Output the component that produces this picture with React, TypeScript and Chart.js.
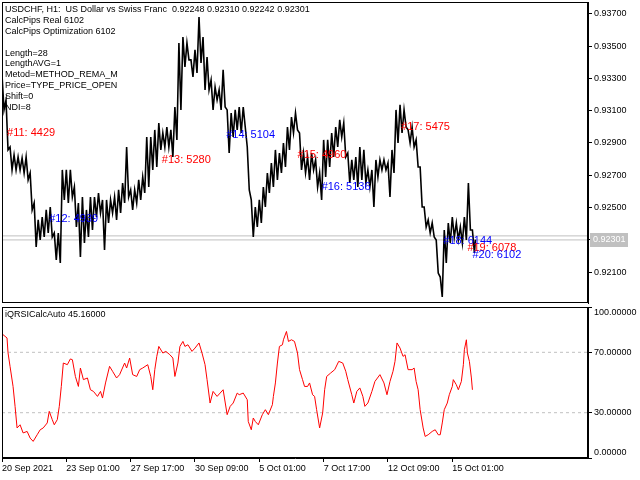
import { useEffect, useRef } from "react"
import { Chart, registerables, type Plugin } from "chart.js"

Chart.register(...registerables)

const FONT = "'Liberation Sans', Arial, sans-serif"

// USDCHF H1: high and low of each 4-bar block
const PRICE_STEP = 4
const priceHigh = [
  0.93322, 0.93167, 0.92875, 0.92826, 0.92813, 0.92807, 0.92813, 0.92714, 0.92528, 0.92423,
  0.92441, 0.92485, 0.92503, 0.92342, 0.92342, 0.92733, 0.92733, 0.92733, 0.92627, 0.92528,
  0.92565, 0.92485, 0.92565, 0.92565, 0.9259, 0.92547, 0.92547, 0.92547, 0.92565, 0.92609,
  0.92652, 0.92875, 0.92609, 0.92609, 0.92671, 0.92689, 0.92937, 0.92937, 0.92981, 0.93024,
  0.92962, 0.92999, 0.92981, 0.93123, 0.9352, 0.93557, 0.9352, 0.93415, 0.93477, 0.93681,
  0.93557, 0.93433, 0.93291, 0.93247, 0.93229, 0.93353, 0.93105, 0.93086, 0.93105, 0.93123,
  0.93123, 0.92875, 0.92547, 0.92503, 0.92547, 0.92627, 0.92714, 0.92776, 0.92857, 0.92838,
  0.929, 0.92999, 0.93061, 0.93086, 0.92962, 0.92838, 0.92813, 0.92838, 0.92795, 0.92714,
  0.92919, 0.92919, 0.92962, 0.92999, 0.93043, 0.93024, 0.92838, 0.92795, 0.92813, 0.92875,
  0.92857, 0.92733, 0.92733, 0.92795, 0.92795, 0.92795, 0.92776, 0.92857, 0.93105, 0.93136,
  0.93105, 0.92981, 0.92999, 0.92919, 0.92751, 0.92503, 0.92423, 0.92404, 0.92299, 0.92069,
  0.92361, 0.92404, 0.92441, 0.92404, 0.92379, 0.92441, 0.92652, 0.92361,
]
const priceLow = [
  0.93105, 0.92857, 0.92733, 0.92733, 0.92733, 0.92714, 0.92671, 0.92485, 0.92255, 0.92299,
  0.92317, 0.92342, 0.92317, 0.92175, 0.92156, 0.92547, 0.92528, 0.92565, 0.92379, 0.92193,
  0.9228, 0.92317, 0.92361, 0.92441, 0.92466, 0.92237, 0.92404, 0.92466, 0.92423, 0.92466,
  0.92528, 0.92565, 0.92485, 0.92528, 0.92547, 0.9259, 0.92627, 0.92733, 0.92751, 0.92857,
  0.92875, 0.92875, 0.92813, 0.92919, 0.93105, 0.93371, 0.93415, 0.93309, 0.93334, 0.93396,
  0.93229, 0.93229, 0.93105, 0.93167, 0.93105, 0.93123, 0.92838, 0.92937, 0.92981, 0.92962,
  0.92999, 0.92609, 0.92317, 0.92379, 0.92404, 0.92503, 0.9259, 0.92627, 0.92671, 0.92714,
  0.92751, 0.92857, 0.92962, 0.92981, 0.92733, 0.92714, 0.92671, 0.92733, 0.92627, 0.92547,
  0.92689, 0.92751, 0.92813, 0.92875, 0.92937, 0.92813, 0.92652, 0.92671, 0.92627, 0.92671,
  0.92652, 0.92627, 0.92503, 0.92689, 0.92733, 0.92733, 0.92565, 0.92714, 0.929, 0.92962,
  0.92999, 0.929, 0.92875, 0.92751, 0.92503, 0.92379, 0.92342, 0.92317, 0.92094, 0.91945,
  0.92156, 0.9228, 0.92317, 0.92299, 0.9228, 0.92299, 0.92361, 0.92218,
]

const PRICE_MIN = 0.91908
const PRICE_MAX = 0.93774
const priceTicks = [0.921, 0.923, 0.925, 0.927, 0.929, 0.931, 0.933, 0.935, 0.937]
const spreadLines = [0.92324, 0.92299]
const LAST_PRICE = 0.92301

// iQRSICalcAuto readings (bar index, value)
const rsiBars = [
  1, 5, 6, 8, 11, 13, 15, 18, 21, 25, 28, 31, 35, 38, 41, 45, 47, 50, 52, 55,
  57, 59, 61, 65, 68, 70, 73, 76, 78, 81, 85, 88, 91, 95, 98, 100, 103, 107, 110, 114,
  117, 122, 124, 127, 130, 134, 137, 140, 145, 148, 150, 152, 154, 156, 160, 163, 167, 170, 172, 175,
  177, 180, 182, 185, 189, 192, 196, 199, 202, 204, 207, 210, 214, 217, 220, 224, 227, 230, 234, 236,
  240, 244, 245, 248, 250, 252, 255, 259, 262, 265, 269, 270, 272, 274, 276, 279, 280, 283, 285, 288,
  291, 294, 296, 299, 301, 304, 306, 309, 311, 313, 316, 319, 321, 323, 327, 331, 335, 339, 342, 344,
  348, 350, 353, 356, 359, 361, 364, 368, 371, 376, 380, 383, 386, 389, 391, 393, 396, 399, 401, 404,
  408, 410, 412, 414, 416, 419, 421, 424, 428, 431, 434, 436, 438, 440, 443, 445, 448, 449, 452, 454,
  457, 459, 460, 462, 463, 465, 467, 468,
]
const rsiValues = [
  81.7, 79.5, 69.7, 60.7, 47.4, 34.2, 19.9, 22.0, 16.6, 17.6, 13.2, 11.0, 15.4, 18.7, 19.9, 23.2, 30.9, 25.4, 22.0, 25.4,
  34.2, 47.4, 62.9, 61.8, 65.6, 65.1, 54.0, 47.4, 59.6, 51.9, 53.0, 45.2, 44.1, 40.8, 44.1, 39.7, 49.7, 60.7, 57.4, 53.0,
  55.2, 62.9, 59.6, 66.2, 55.2, 54.0, 58.5, 59.6, 61.8, 54.0, 45.2, 58.5, 67.3, 73.9, 69.5, 70.6, 68.4, 66.2, 54.0, 62.9,
  73.9, 77.2, 73.9, 75.0, 70.6, 72.8, 76.2, 69.5, 61.8, 51.9, 36.4, 44.1, 40.8, 43.0, 45.2, 28.7, 34.2, 36.4, 43.0, 41.9,
  43.0, 38.6, 24.2, 18.7, 26.5, 24.2, 22.0, 28.7, 32.0, 28.7, 35.3, 40.8, 49.7, 62.9, 73.9, 75.0, 78.3, 83.8, 77.2, 78.3,
  77.2, 69.5, 58.5, 51.9, 47.4, 47.4, 49.7, 41.9, 40.8, 32.0, 19.9, 29.8, 45.2, 54.0, 56.3, 58.5, 64.0, 62.9, 57.4, 51.9,
  41.9, 36.4, 44.1, 46.4, 40.8, 34.2, 36.4, 44.1, 50.7, 55.2, 49.7, 41.9, 50.7, 57.4, 64.0, 76.2, 72.8, 67.3, 68.4, 58.5,
  58.5, 59.6, 50.7, 45.2, 32.0, 19.9, 14.3, 15.4, 17.6, 18.7, 15.4, 15.4, 23.2, 32.0, 36.4, 41.9, 47.4, 51.9, 48.5, 45.2,
  50.7, 61.8, 71.7, 78.3, 69.5, 64.0, 53.0, 45.16,
]
const rsiTicks = [0, 30, 70, 100]
const rsiLevels = [70, 30]

const BAR_MAX = 583
const timeTicks = [0, 64, 128, 192, 256, 320, 384, 448]
const timeLabels = [
  "20 Sep 2021", "23 Sep 01:00", "27 Sep 17:00", "30 Sep 09:00",
  "5 Oct 01:00", "7 Oct 17:00", "12 Oct 09:00", "15 Oct 01:00",
]

const headerLines = [
  "USDCHF, H1:  US Dollar vs Swiss Franc  0.92248 0.92310 0.92242 0.92301",
  "CalcPips Real 6102",
  "CalcPips Optimization 6102",
  "",
  "Length=28",
  "LengthAVG=1",
  "Metod=METHOD_REMA_M",
  "Price=TYPE_PRICE_OPEN",
  "Shift=0",
  "NDI=8",
]
const rsiTitle = "iQRSICalcAuto 45.16000"

// trade marks on the price panel
const noteLabels = ["#11: 4429", "#12: 4939", "#13: 5280", "#14: 5104", "#15: 4960", "#16: 5136", "#17: 5475", "#18: 6144", "#19: 6078", "#20: 6102"]
const noteBars = [5, 47, 159, 223, 294, 318, 397, 439, 463, 468]
const notePrices = [0.92962, 0.92429, 0.92795, 0.9295, 0.92826, 0.92627, 0.93, 0.92293, 0.92249, 0.92206]
const noteColors = ["#ff0000", "#0000ff", "#ff0000", "#0000ff", "#ff0000", "#0000ff", "#ff0000", "#0000ff", "#ff0000", "#0000ff"]

const framePlugin: Plugin = {
  id: "frame",
  afterDraw(chart) {
    const { ctx, chartArea: a } = chart
    ctx.save()
    ctx.strokeStyle = "#000"
    ctx.lineWidth = 1
    ctx.strokeRect(a.left + 0.5, a.top + 0.5, a.right - a.left - 1, a.bottom - a.top - 1)
    ctx.restore()
  },
}

const textBlock = (id: string, lines: string[]): Plugin => ({
  id,
  afterDraw(chart) {
    const { ctx } = chart
    ctx.save()
    ctx.font = `9px ${FONT}`
    ctx.fillStyle = "#000"
    ctx.textBaseline = "middle"
    lines.forEach((line, i) => {
      if (line) ctx.fillText(line, 5, 10 + i * 10.8)
    })
    ctx.restore()
  },
})

const notesPlugin: Plugin = {
  id: "notes",
  afterDatasetsDraw(chart) {
    const { ctx, scales } = chart
    ctx.save()
    ctx.font = `11px ${FONT}`
    ctx.textBaseline = "middle"
    noteLabels.forEach((label, i) => {
      ctx.fillStyle = noteColors[i]
      ctx.fillText(label, scales.x.getPixelForValue(noteBars[i]), scales.y.getPixelForValue(notePrices[i]))
    })
    ctx.restore()
  },
}

const lastPricePlugin: Plugin = {
  id: "lastPrice",
  afterDraw(chart) {
    const { ctx, scales, chartArea } = chart
    const y = Math.round(scales.y.getPixelForValue(LAST_PRICE))
    ctx.save()
    ctx.fillStyle = "#c0c0c0"
    ctx.fillRect(chartArea.right + 2, y - 7, 38, 14)
    ctx.fillStyle = "#fff"
    ctx.font = `9px ${FONT}`
    ctx.textBaseline = "middle"
    ctx.fillText(LAST_PRICE.toFixed(5), chartArea.right + 5, y)
    ctx.restore()
  },
}

const noPadding = (s: any) => {
  s.paddingTop = 0
  s.paddingBottom = 0
  s.paddingLeft = 0
  s.paddingRight = 0
}

// zigzag through each block's high then low so the line looks like the dense H1 trace
const pricePoints = priceHigh.flatMap((hi, i) => [
  { x: i * PRICE_STEP, y: hi },
  { x: i * PRICE_STEP + PRICE_STEP / 2, y: priceLow[i] },
])
pricePoints.push({ x: (priceHigh.length - 1) * PRICE_STEP + 3, y: LAST_PRICE })

export default function App() {
  const priceRef = useRef<HTMLCanvasElement>(null)
  const rsiRef = useRef<HTMLCanvasElement>(null)

  useEffect(() => {
    if (!priceRef.current || !rsiRef.current) return

    const priceChart = new Chart(priceRef.current, {
      type: "line",
      data: {
        datasets: [
          {
            data: pricePoints,
            borderColor: "#000",
            borderWidth: 1.6,
            pointRadius: 0,
          },
          ...spreadLines.map((v) => ({
            data: [
              { x: 0, y: v },
              { x: BAR_MAX, y: v },
            ],
            borderColor: "#c0c0c0",
            borderWidth: 1,
            pointRadius: 0,
          })),
        ],
      },
      options: {
        animation: false,
        responsive: false,
        layout: { padding: { left: 2, top: 2, bottom: 2, right: 0 } },
        plugins: { legend: { display: false }, tooltip: { enabled: false } },
        scales: {
          x: { type: "linear", min: 0, max: BAR_MAX, display: false },
          y: {
            type: "linear",
            position: "right",
            min: PRICE_MIN,
            max: PRICE_MAX,
            afterBuildTicks: (s) => {
              s.ticks = priceTicks.map((value) => ({ value }))
            },
            afterFit: (s) => {
              s.width = 52
              noPadding(s)
            },
            grid: { drawOnChartArea: false, tickLength: 4, color: "#000" },
            border: { color: "#000" },
            ticks: {
              color: "#000",
              padding: 2,
              font: { family: FONT, size: 9 },
              callback: (v) => Number(v).toFixed(5),
            },
          },
        },
      },
      plugins: [framePlugin, textBlock("header", headerLines), notesPlugin, lastPricePlugin],
    })

    const rsiChart = new Chart(rsiRef.current, {
      type: "line",
      data: {
        datasets: [
          {
            data: rsiBars.map((b, i) => ({ x: b, y: rsiValues[i] })),
            borderColor: "#ff0000",
            borderWidth: 1,
            pointRadius: 0,
          },
          ...rsiLevels.map((v) => ({
            data: [
              { x: 0, y: v },
              { x: BAR_MAX, y: v },
            ],
            borderColor: "#c0c0c0",
            borderWidth: 1,
            borderDash: [3, 3],
            pointRadius: 0,
          })),
        ],
      },
      options: {
        animation: false,
        responsive: false,
        layout: { padding: { left: 2, top: 2, bottom: 0, right: 0 } },
        plugins: { legend: { display: false }, tooltip: { enabled: false } },
        scales: {
          x: {
            type: "linear",
            min: 0,
            max: BAR_MAX,
            afterBuildTicks: (s) => {
              s.ticks = timeTicks.map((value) => ({ value }))
            },
            afterFit: (s) => {
              s.height = 22
              noPadding(s)
            },
            grid: { drawOnChartArea: false, tickLength: 4, color: "#000" },
            border: { color: "#000" },
            ticks: {
              color: "#000",
              padding: 1,
              align: "start",
              autoSkip: false,
              maxRotation: 0,
              font: { family: FONT, size: 9 },
              callback: (v) => timeLabels[timeTicks.indexOf(Number(v))] ?? "",
            },
          },
          y: {
            type: "linear",
            position: "right",
            min: 0,
            max: 100,
            afterBuildTicks: (s) => {
              s.ticks = rsiTicks.map((value) => ({ value }))
            },
            afterFit: (s) => {
              s.width = 52
              noPadding(s)
            },
            grid: { drawOnChartArea: false, tickLength: 4, color: "#000" },
            border: { color: "#000" },
            ticks: {
              color: "#000",
              padding: 2,
              font: { family: FONT, size: 9, lineHeight: 1.2 },
              callback: (v) => {
                const n = Number(v)
                const label = n.toFixed(5)
                if (n === 100) return ["", label]
                if (n === 0) return [label, ""]
                return label
              },
            },
          },
        },
      },
      plugins: [framePlugin, textBlock("rsiTitle", [rsiTitle])],
    })

    return () => {
      priceChart.destroy()
      rsiChart.destroy()
    }
  }, [])

  return (
    <div style={{ position: "fixed", left: 0, top: 0, width: 640, height: 480, background: "#fff" }}>
      <canvas ref={priceRef} width={640} height={305} style={{ position: "absolute", left: 0, top: 0 }} />
      <canvas ref={rsiRef} width={640} height={175} style={{ position: "absolute", left: 0, top: 305 }} />
    </div>
  )
}
